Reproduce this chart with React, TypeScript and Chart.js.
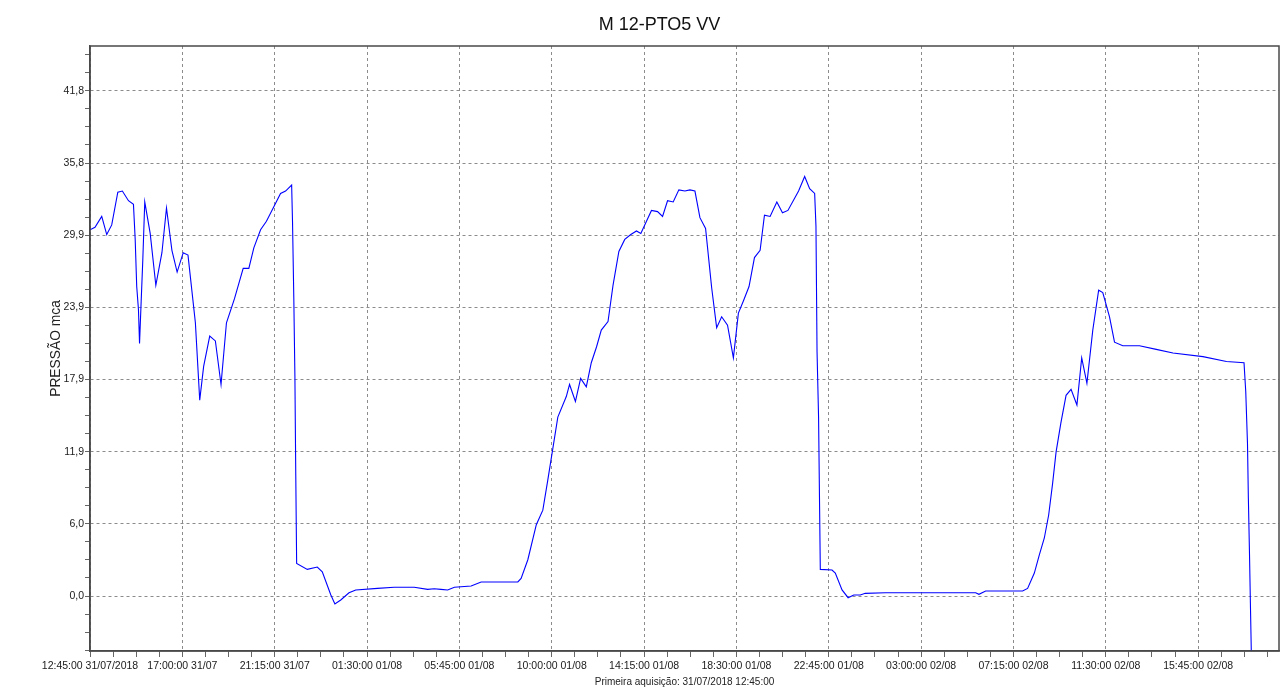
import React, { useEffect, useRef } from 'react';
import { Chart, registerables } from 'chart.js';

Chart.register(...registerables);

const TITLE = 'M 12-PTO5 VV';
const Y_TITLE = 'PRESSÃO mca';
const X_TITLE = 'Primeira aquisição: 31/07/2018 12:45:00';

// hours elapsed since 31/07/2018 12:45:00
const hours = [
  0.0, 0.23, 0.54, 0.77, 1.0, 1.28, 1.49, 1.77, 2.0, 2.08, 2.15, 2.23, 2.28, 2.34, 2.43, 2.52,
  2.77, 3.03, 3.31, 3.52, 3.77, 4.01, 4.29, 4.51, 4.85, 5.05, 5.23, 5.51, 5.77, 6.03, 6.28, 6.65,
  7.05, 7.31, 7.54, 7.85, 8.12, 8.46, 8.77, 9.0, 9.28, 9.32, 9.38, 9.43, 9.47, 9.51,
  10.0, 10.46, 10.69, 11.08, 11.27, 11.54, 11.92, 12.23, 13.23, 14.0, 14.92, 15.54, 15.84, 16.15,
  16.46, 16.77, 17.54, 18.0, 19.69, 19.84, 20.15, 20.54, 20.84, 21.07, 21.53, 21.92, 22.07, 22.34,
  22.58, 22.84, 23.07, 23.31, 23.53, 23.84, 24.07, 24.34, 24.61, 24.89, 25.15, 25.35, 25.61, 25.84,
  26.12, 26.35, 26.58, 26.84, 27.1, 27.38, 27.61, 27.84, 28.07, 28.33, 28.61, 28.84, 29.07, 29.34,
  29.61, 29.84, 30.07, 30.33, 30.58, 30.84, 31.04, 31.3, 31.61, 31.87, 32.12, 32.61, 32.89, 33.12,
  33.35, 33.41, 33.46, 33.53, 33.61, 34.15, 34.3, 34.61, 34.89, 35.15, 35.45, 35.68, 36.6, 40.76,
  40.91, 41.22, 42.92, 43.15, 43.46, 43.69, 43.92, 44.12, 44.3, 44.46, 44.68, 44.92, 45.15, 45.42,
  45.64, 45.88, 46.15, 46.42, 46.61, 46.92, 47.15, 47.53, 48.3, 49.07, 49.84, 51.22, 52.3, 53.11,
  53.19, 53.27, 53.31, 53.36, 53.41, 53.46,
];

const pressure = [
  30.3, 30.5, 31.4, 29.9, 30.7, 33.4, 33.5, 32.7, 32.4, 29.5, 25.6, 23.7, 20.9, 23.7, 27.8, 32.6,
  30.0, 25.7, 28.4, 32.1, 28.6, 26.8, 28.4, 28.2, 22.6, 16.2, 19.0, 21.5, 21.1, 17.5, 22.6, 24.6,
  27.1, 27.1, 28.8, 30.3, 31.0, 32.2, 33.3, 33.5, 34.0, 31.0, 24.6, 18.2, 10.0, 2.7,
  2.2, 2.4, 2.0, 0.1, -0.66, -0.33, 0.27, 0.5, 0.63, 0.72, 0.72, 0.55, 0.6, 0.55,
  0.5, 0.72, 0.83, 1.16, 1.16, 1.46, 3.0, 5.9, 7.1, 9.6, 14.8, 16.5, 17.5, 16.1,
  18.0, 17.3, 19.3, 20.6, 22.0, 22.7, 25.7, 28.5, 29.5, 29.9, 30.2, 30.0, 31.0, 31.9,
  31.8, 31.4, 32.7, 32.6, 33.6, 33.5, 33.6, 33.5, 31.3, 30.4, 25.5, 22.2, 23.1, 22.4,
  19.7, 23.4, 24.4, 25.6, 28.0, 28.6, 31.5, 31.4, 32.6, 31.7, 31.9, 33.5, 34.7, 33.7,
  33.3, 30.6, 20.2, 14.8, 2.2, 2.15, 1.9, 0.5, -0.14, 0.08, 0.08, 0.22, 0.27, 0.27,
  0.14, 0.41, 0.41, 0.63, 1.9, 3.4, 4.8, 6.7, 9.3, 11.9, 14.3, 16.6, 17.1, 15.8,
  19.7, 17.6, 22.0, 25.3, 25.1, 23.1, 21.0, 20.7, 20.7, 20.4, 20.1, 19.8, 19.4, 19.3,
  16.9, 12.6, 8.1, 3.7, -1.2, -6.0,
];

const xTickHours = [0, 4.25, 8.5, 12.75, 17, 21.25, 25.5, 29.75, 34, 38.25, 42.5, 46.75, 51];
const xTickLabels = [
  '12:45:00 31/07/2018', '17:00:00 31/07', '21:15:00 31/07', '01:30:00 01/08',
  '05:45:00 01/08', '10:00:00 01/08', '14:15:00 01/08', '18:30:00 01/08',
  '22:45:00 01/08', '03:00:00 02/08', '07:15:00 02/08', '11:30:00 02/08', '15:45:00 02/08',
];
const X_MINOR_DIV = 4;
const X_MIN = 0;
const X_MAX = 54.72;

const yTickValues = [0, 5.97, 11.94, 17.91, 23.88, 29.85, 35.82, 41.79];
const yTickLabels = ['0,0', '6,0', '11,9', '17,9', '23,9', '29,9', '35,8', '41,8'];
const Y_MINOR_DIV = 4;
const Y_MIN = -4.55;
const Y_MAX = 45.5;

function buildTicks(major: number[], div: number, min: number, max: number) {
  const step = (major[1] - major[0]) / div;
  const base = major[0];
  const out: number[] = [];
  const k0 = Math.ceil((min - base) / step - 1e-9);
  const k1 = Math.floor((max - base) / step + 1e-9);
  for (let k = k0; k <= k1; k++) out.push(+(base + k * step).toFixed(6));
  return out;
}

function majorIndex(major: number[], v: number) {
  return major.findIndex((m) => Math.abs(m - v) < 1e-4);
}

const SANS = "'Liberation Sans', Arial, sans-serif";
const GRID = '#8c8c8c';
const AXIS = '#4a4a4a';

const frame = {
  id: 'frame',
  afterDatasetsDraw(chart: any) {
    const { ctx, chartArea } = chart;
    ctx.save();
    ctx.strokeStyle = AXIS;
    ctx.lineWidth = 1.5;
    ctx.strokeRect(chartArea.left, chartArea.top, chartArea.right - chartArea.left, chartArea.bottom - chartArea.top);
    ctx.restore();
  },
};

export default function App() {
  const ref = useRef<HTMLCanvasElement | null>(null);

  useEffect(() => {
    if (!ref.current) return;
    const chart = new Chart(ref.current, {
      type: 'line',
      data: {
        datasets: [
          {
            data: hours.map((h, i) => ({ x: h, y: pressure[i] })),
            borderColor: '#0000ff',
            borderWidth: 1.1,
            pointRadius: 0,
            tension: 0,
            fill: false,
          },
        ],
      },
      plugins: [frame],
      options: {
        animation: false,
        responsive: false,
        layout: { padding: { left: 40, right: 5, top: 0, bottom: 0 } },
        plugins: {
          legend: { display: false },
          tooltip: { enabled: false },
          title: {
            display: true,
            text: TITLE,
            color: '#111',
            font: { family: SANS, size: 18, weight: 'normal', lineHeight: 1.2 },
            padding: { top: 14, bottom: 10.4 },
          },
        },
        scales: {
          x: {
            type: 'linear',
            min: X_MIN,
            max: X_MAX,
            afterBuildTicks: (scale: any) => {
              scale.ticks = buildTicks(xTickHours, X_MINOR_DIV, X_MIN, X_MAX).map((v) => ({ value: v }));
            },
            afterFit: (scale: any) => {
              scale.height = 41;
            },
            ticks: {
              autoSkip: false,
              maxRotation: 0,
              minRotation: 0,
              padding: 3,
              color: '#1a1a1a',
              font: { family: SANS, size: 10.5 },
              callback: (value: any) => {
                const i = majorIndex(xTickHours, Number(value));
                return i >= 0 ? xTickLabels[i] : '';
              },
            },
            grid: {
              color: (c: any) => (c.tick && majorIndex(xTickHours, c.tick.value) >= 0 ? GRID : 'rgba(0,0,0,0)'),
              tickColor: '#666',
              tickLength: 6,
              tickBorderDash: [],
              lineWidth: 1,
            },
            border: { display: true, color: AXIS, width: 1.5, dash: [3, 3] },
            title: {
              display: true,
              text: X_TITLE,
              color: '#222',
              font: { family: SANS, size: 10 },
              padding: { top: 0, bottom: 4 },
            },
          },
          y: {
            type: 'linear',
            min: Y_MIN,
            max: Y_MAX,
            afterBuildTicks: (scale: any) => {
              scale.ticks = buildTicks(yTickValues, Y_MINOR_DIV, Y_MIN, Y_MAX).map((v) => ({ value: v }));
            },
            afterFit: (scale: any) => {
              scale.width = 50;
            },
            ticks: {
              autoSkip: false,
              padding: 1,
              color: '#1a1a1a',
              font: { family: SANS, size: 10.5 },
              callback: (value: any) => {
                const i = majorIndex(yTickValues, Number(value));
                return i >= 0 ? yTickLabels[i] : '';
              },
            },
            grid: {
              color: (c: any) => (c.tick && majorIndex(yTickValues, c.tick.value) >= 0 ? GRID : 'rgba(0,0,0,0)'),
              tickColor: '#666',
              tickLength: 5,
              tickBorderDash: [],
              lineWidth: 1,
            },
            border: { display: true, color: AXIS, width: 1.5, dash: [3, 3] },
            title: {
              display: true,
              text: Y_TITLE,
              color: '#222',
              font: { family: SANS, size: 13.8 },
              padding: { top: 8, bottom: 0 },
            },
          },
        },
      },
    } as any);
    return () => chart.destroy();
  }, []);

  return (
    <div style={{ position: 'fixed', left: 0, top: 0, width: 1284, height: 692, background: '#fff' }}>
      <canvas ref={ref} width={1284} height={692} style={{ display: 'block', width: 1284, height: 692 }} />
    </div>
  );
}
